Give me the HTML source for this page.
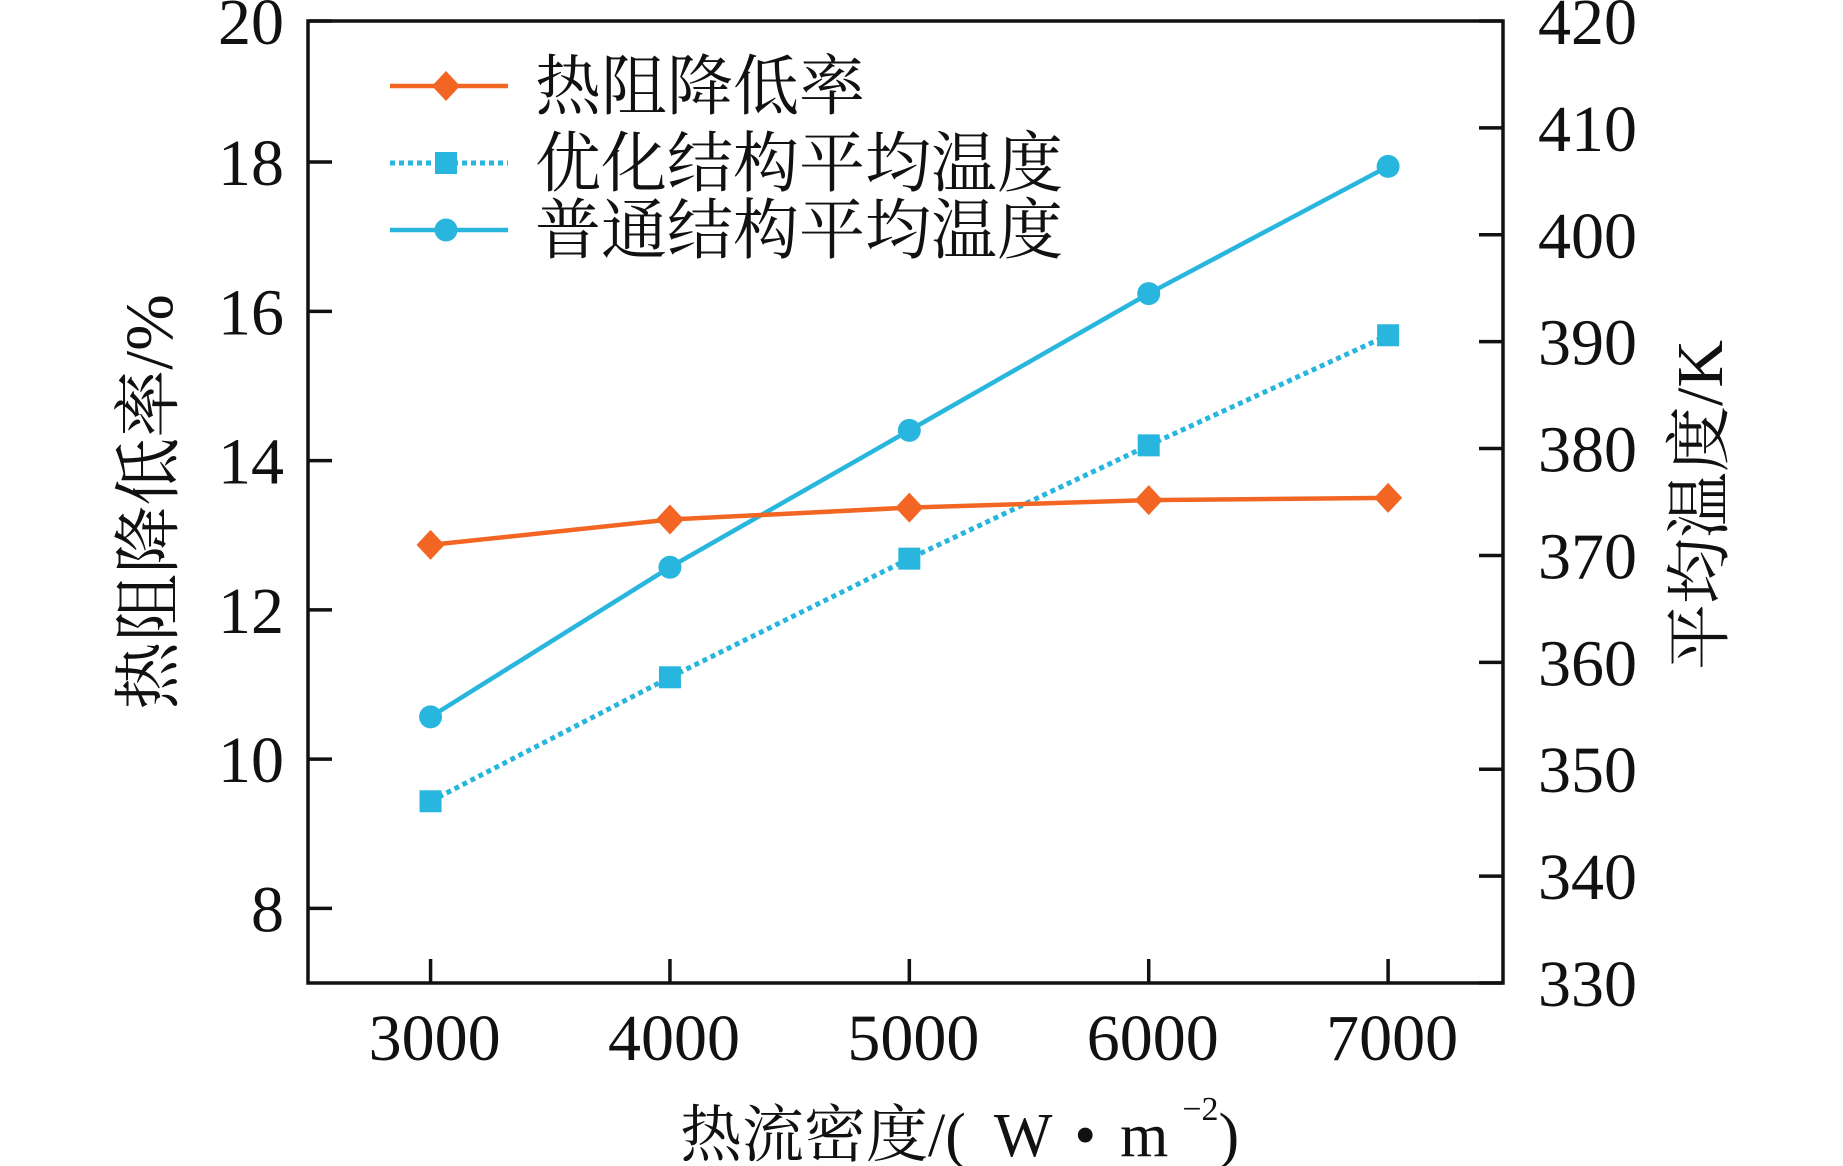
<!DOCTYPE html>
<html><head><meta charset="utf-8">
<style>html,body{margin:0;padding:0;background:#fff;}svg{display:block;}</style></head>
<body>
<svg id="chart" width="1843" height="1166" viewBox="0 0 1843 1166" xmlns="http://www.w3.org/2000/svg"></svg>
<script>
const categories = [3000, 4000, 5000, 6000, 7000];
const reductionRate = [12.87, 13.21, 13.37, 13.47, 13.50];
const optimizedTemp = [347.0, 358.6, 369.7, 380.3, 390.6];
const normalTemp = [354.9, 368.9, 381.7, 394.5, 406.4];
const xTicks = [3000, 4000, 5000, 6000, 7000];
const leftTicks = [8, 10, 12, 14, 16, 18, 20];
const rightTicks = [330, 340, 350, 360, 370, 380, 390, 400, 410, 420];

const L=308, R=1503, T=21, B=983;
const xMin=2488, xMax=7480, lMin=7.0, lMax=19.89, rMin=330, rMax=420;
const xs=v=>L+(v-xMin)/(xMax-xMin)*(R-L);
const yl=v=>B-(v-lMin)/(lMax-lMin)*(B-T);
const yr=v=>B-(v-rMin)/(rMax-rMin)*(B-T);
const svg=document.getElementById('chart');
const NS='http://www.w3.org/2000/svg';
const ORANGE='#f26522', CYAN='#29b6de';
const SERIF='"Liberation Serif","Noto Serif CJK SC",serif';
function mk(tag,attrs,parent){const e=document.createElementNS(NS,tag);for(const k in attrs)e.setAttribute(k,attrs[k]);(parent||svg).appendChild(e);return e;}
function txt(s,attrs){const e=mk('text',Object.assign({'font-family':SERIF,fill:'#111'},attrs));e.textContent=s;return e;}

let f=mk('rect',{x:L,y:T,width:R-L,height:B-T,fill:'none',stroke:'#111','stroke-width':3.5});



xTicks.forEach(v=>{
  let t=mk('line',{x1:xs(v),x2:xs(v),y1:B,y2:B-24,stroke:'#111','stroke-width':3.5});
  
  
  let l=txt(String(v),{x:xs(v)+4,y:1060,'font-size':66,'text-anchor':'middle'});
  
  
});
leftTicks.forEach(v=>{
  const y=Math.max(yl(v),T);
  let t=mk('line',{x1:L,x2:L+24,y1:y,y2:y,stroke:'#111','stroke-width':3.5});
  
  
  let l=txt(String(v),{x:284,y:y+23,'font-size':66,'text-anchor':'end'});
  
  
});
rightTicks.forEach(v=>{
  let t=mk('line',{x1:R,x2:R-24,y1:yr(v),y2:yr(v),stroke:'#111','stroke-width':3.5});
  
  
  let l=txt(String(v),{x:1538,y:yr(v)+23,'font-size':66,'text-anchor':'start'});
  
  
});

function series(vals,yf,color,dash,marker,name){
  const g=mk('g',{});
  
  
  const pts=vals.map((v,i)=>xs(categories[i])+','+yf(v)).join(' ');
  const a={points:pts,fill:'none',stroke:color,'stroke-width':dash?5:4.5};
  if(dash)a['stroke-dasharray']='5,4';
  mk('polyline',a,g);
  vals.forEach((v,i)=>drawMarker(g,marker,xs(categories[i]),yf(v),color));
}
function drawMarker(g,m,x,y,c){
  let e;
  if(m==='diamond')e=mk('polygon',{points:`${x},${y-15} ${x+14},${y} ${x},${y+15} ${x-14},${y}`,fill:c},g);
  else if(m==='square')e=mk('rect',{x:x-11,y:y-11,width:22,height:22,fill:c},g);
  else e=mk('circle',{cx:x,cy:y,r:11.5,fill:c},g);
  
  
}
series(normalTemp,yr,CYAN,false,'circle','series-normal-temp');
series(optimizedTemp,yr,CYAN,true,'square','series-optimized-temp');
series(reductionRate,yl,ORANGE,false,'diamond','series-reduction-rate');

const leg=[['热阻降低率',ORANGE,false,'diamond',86],['优化结构平均温度',CYAN,true,'square',163],['普通结构平均温度',CYAN,false,'circle',230]];
leg.forEach(([s,c,d,m,y])=>{
  const g=mk('g',{});
  
  
  const a={x1:390,x2:508,y1:y,y2:y,stroke:c,'stroke-width':d?5:4.5};
  if(d)a['stroke-dasharray']='5,4';
  mk('line',a,g);
  drawMarker(g,m,446,y,c);
  const t=mk('text',{x:535,y:y+23,'font-family':SERIF,'font-size':66,fill:'#111'},g);
  t.textContent=s;
});

const xt=mk('text',{x:680,y:1156,'font-family':SERIF,'font-size':62,fill:'#111'});


xt.innerHTML='热流密度/(<tspan dx="28">W</tspan><tspan dx="22">•</tspan><tspan dx="24">m</tspan><tspan font-size="34" dx="14" dy="-36">−2</tspan><tspan dy="36">)</tspan>';
let yt=txt('热阻降低率/%',{x:0,y:0,'font-size':68,'text-anchor':'middle',transform:'translate(172,502) rotate(-90)'});


let rt=txt('平均温度/K',{x:0,y:0,'font-size':66,'text-anchor':'middle',transform:'translate(1722,505) rotate(-90)'});


</script>
</body></html>
